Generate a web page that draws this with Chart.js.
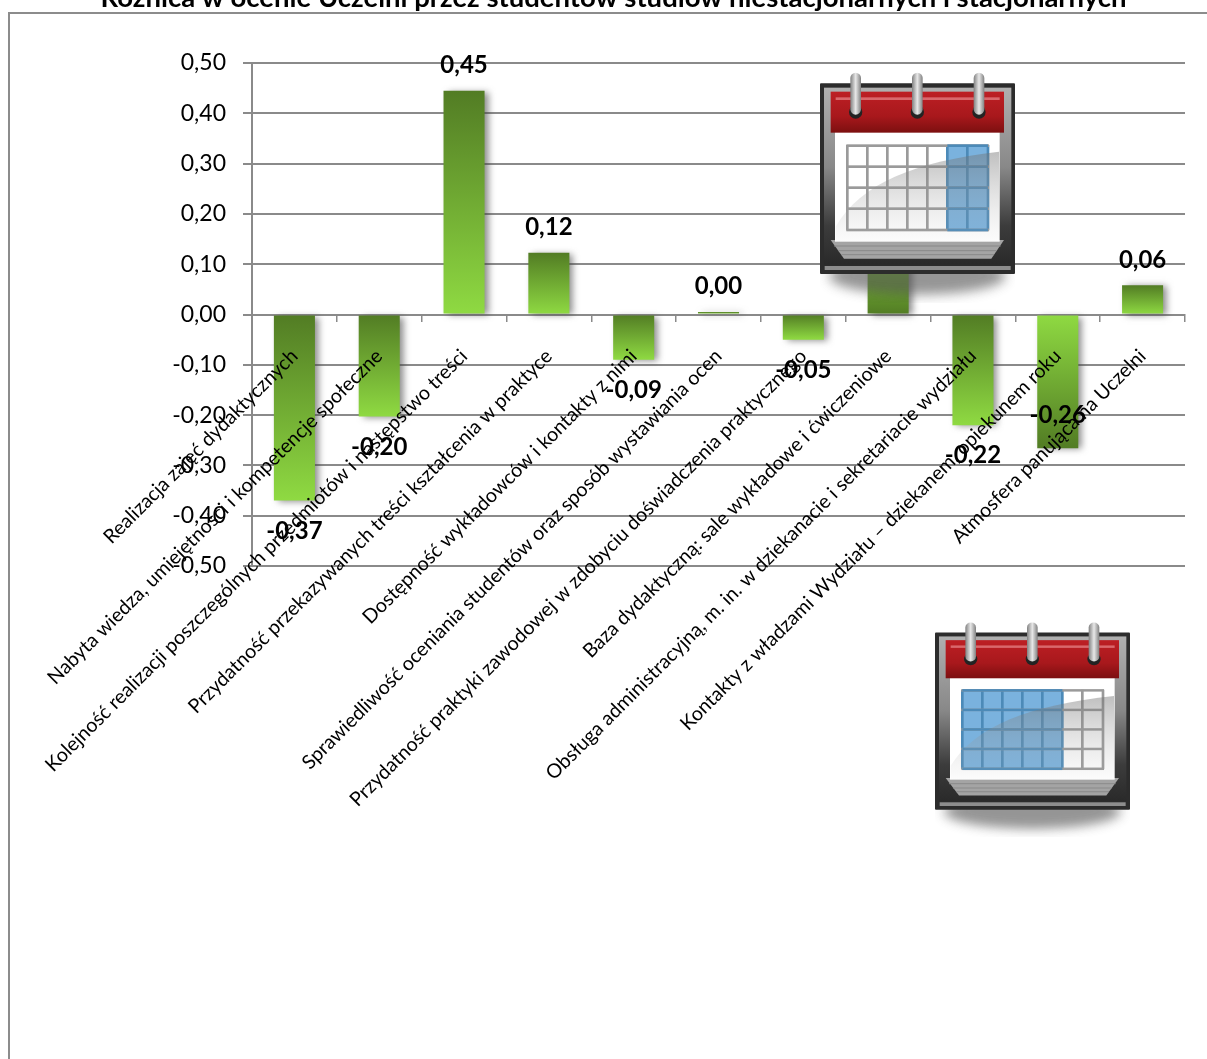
<!DOCTYPE html>
<html lang="pl">
<head>
<meta charset="utf-8">
<script src="https://cdn.jsdelivr.net/npm/chart.js@4"></script>
<style>
  html, body { margin: 0; background: #fff; overflow: hidden; }
  #wrap { position: relative; width: 1207px; height: 1059px; overflow: hidden; }
  #frame { position: absolute; left: 8px; top: 12px; width: 1300px; height: 1200px; border: 2px solid #8c8c8c; }
  canvas { position: absolute; left: 0; top: 0; }
  svg { position: absolute; }
</style>
</head>
<body>
<div id="wrap">
  <div id="frame"></div>
  <canvas id="chart" width="1207" height="1059"></canvas>
  <div id="icons"></div>
</div>
<script>
const chartTitle = "Różnica w ocenie Uczelni przez studentów studiów niestacjonarnych i stacjonarnych";
const categories = [
  "Realizacja zajęć dydaktycznych",
  "Nabyta wiedza, umiejętności i kompetencje społeczne",
  "Kolejność realizacji poszczególnych przedmiotów i następstwo treści",
  "Przydatność przekazywanych treści kształcenia w praktyce",
  "Dostępność wykładowców i kontakty z nimi",
  "Sprawiedliwość oceniania studentów oraz sposób wystawiania ocen",
  "Przydatność praktyki zawodowej w zdobyciu doświadczenia praktycznego",
  "Baza dydaktyczną: sale wykładowe i ćwiczeniowe",
  "Obsługa administracyjną, m. in. w dziekanacie i sekretariacie wydziału",
  "Kontakty z władzami Wydziału – dziekanem, opiekunem roku",
  "Atmosfera panująca na Uczelni"
];
const values = [-0.37, -0.203, 0.445, 0.123, -0.09, 0.005, -0.05, 0.15, -0.22, -0.266, 0.058];
const valueLabels = ["-0,37", "-0,20", "0,45", "0,12", "-0,09", "0,00", "-0,05", "0,15", "-0,22", "-0,26", "0,06"];
const flippedBars = [7, 9]; // these two have the light end on top

const FONT = "Lato, Carlito, sans-serif";
const DARK = "#527c24";
const LIGHT = "#8fda42";
const GRID = "#8a8a8a";

function barGradient(c) {
  const chart = c.chart;
  const y = chart.scales.y;
  if (!y || c.dataIndex === undefined) return LIGHT;
  const v = values[c.dataIndex];
  const top = y.getPixelForValue(Math.max(v, 0));
  const bottom = y.getPixelForValue(Math.min(v, 0));
  if (!isFinite(top) || !isFinite(bottom)) return LIGHT; // scale not laid out yet
  const g = chart.ctx.createLinearGradient(0, top, 0, bottom);
  const flip = flippedBars.includes(c.dataIndex);
  g.addColorStop(0, flip ? LIGHT : DARK);
  g.addColorStop(1, flip ? DARK : LIGHT);
  return g;
}

// soft shadow behind the bars
const barShadow = {
  id: "barShadow",
  beforeDatasetDraw(chart) {
    const ctx = chart.ctx;
    ctx.save();
    ctx.shadowColor = "rgba(60,60,60,0.6)";
    ctx.shadowBlur = 7;
    ctx.shadowOffsetX = 4;
    ctx.shadowOffsetY = 1;
  },
  afterDatasetDraw(chart) {
    chart.ctx.restore();
  }
};

const valueText = {
  id: "valueText",
  afterDraw(chart) {
    const ctx = chart.ctx;
    ctx.save();
    ctx.font = "bold 24px " + FONT;
    ctx.fillStyle = "#000";
    ctx.textAlign = "center";
    ctx.textBaseline = "middle";
    chart.getDatasetMeta(0).data.forEach((bar, i) => {
      let off = values[i] < 0 ? 30.5 : -25.5;
      if (i === 9) off = -33.5; // this one sits inside its bar
      ctx.fillText(valueLabels[i], bar.x, bar.y + off);
    });
    ctx.restore();
  }
};

new Chart(document.getElementById("chart"), {
  type: "bar",
  data: {
    labels: categories,
    datasets: [{
      data: values,
      backgroundColor: barGradient,
      borderWidth: 0,
      categoryPercentage: 1,
      barPercentage: 0.484
    }]
  },
  plugins: [barShadow, valueText],
  options: {
    responsive: false,
    animation: false,
    layout: { padding: { left: 42, right: 22, top: 0, bottom: 493 } },
    plugins: {
      legend: { display: false },
      tooltip: { enabled: false },
      title: {
        display: true,
        text: chartTitle,
        color: "#000",
        font: { family: FONT, size: 27.5, weight: "bold" },
        padding: { top: -18.5, bottom: 48.5 }
      }
    },
    scales: {
      x: {
        position: { y: 0 },
        afterFit(s) { s.height = 0; },
        grid: { drawOnChartArea: false, color: GRID, lineWidth: 1.5, tickLength: 6 },
        border: { color: GRID, width: 2 },
        ticks: {
          z: 1,
          autoSkip: false,
          minRotation: 45,
          maxRotation: 45,
          padding: 24,
          color: "#000",
          font: { family: FONT, size: 19.7 }
        }
      },
      y: {
        min: -0.5,
        max: 0.5,
        afterFit(s) { s.width = 210; },
        grid: { color: GRID, lineWidth: 2, tickLength: 9 },
        border: { color: GRID, width: 2 },
        ticks: {
          stepSize: 0.1,
          padding: 17,
          color: "#000",
          font: { family: FONT, size: 23 },
          callback: v => v.toFixed(2).replace(".", ",")
        }
      }
    }
  }
});

// the two calendar pictures laid over the chart (drawn in a 585 wide box)
function calendar(id, left, top, yScale, blueFrom, blueTo) {
  const cols = [200, 260, 320, 380, 440, 500, 560, 622];
  const rows = [287, 350, 413, 476, 540];
  const gx = cols[blueFrom], gw = cols[blueTo] - cols[blueFrom];
  let lines = "";
  cols.forEach((x, i) => {
    const blue = i >= blueFrom && i <= blueTo;
    lines += `<rect x="${x - 4}" y="285" width="8" height="256" fill="${blue ? "#4c8ab8" : "#9a9a9a"}"/>`;
  });
  rows.forEach(y => {
    lines += `<rect x="197" y="${y - 4}" width="428" height="8" fill="#9a9a9a"/>`;
    lines += `<rect x="${gx}" y="${y - 4}" width="${gw}" height="8" fill="#4c8ab8"/>`;
  });
  const rings = [225, 410, 595].map(x => `
    <circle cx="${x}" cy="186" r="20" fill="#232323"/>
    <rect x="${x - 16}" y="68" width="32" height="126" rx="16" fill="url(#${id}ring)"/>`).join("");
  return `<svg style="left:${left}px;top:${top}px" width="195" height="${700 * yScale / 3}" viewBox="118 60 585 700" preserveAspectRatio="none">
    <defs>
      <linearGradient id="${id}frame" x1="0" y1="0" x2="0" y2="1">
        <stop offset="0" stop-color="#b0b0b0"/><stop offset="0.45" stop-color="#888"/><stop offset="0.78" stop-color="#3c3c3c"/><stop offset="1" stop-color="#2a2a2a"/>
      </linearGradient>
      <linearGradient id="${id}red" x1="0" y1="0" x2="0" y2="1">
        <stop offset="0" stop-color="#bd1f24"/><stop offset="0.6" stop-color="#a8181c"/><stop offset="1" stop-color="#7c0f10"/>
      </linearGradient>
      <linearGradient id="${id}ring" x1="0" y1="0" x2="1" y2="0">
        <stop offset="0" stop-color="#808080"/><stop offset="0.5" stop-color="#e8e8e8"/><stop offset="1" stop-color="#808080"/>
      </linearGradient>
      <linearGradient id="${id}sheen" x1="0" y1="0" x2="0" y2="1">
        <stop offset="0" stop-color="#707070" stop-opacity="0.45"/><stop offset="1" stop-color="#bbb" stop-opacity="0.05"/>
      </linearGradient>
      <filter id="${id}blur" x="-20%" y="-60%" width="140%" height="220%"><feGaussianBlur stdDeviation="17"/></filter>
    </defs>
    <ellipse cx="410" cy="678" rx="265" ry="56" fill="#555" opacity="0.62" filter="url(#${id}blur)"/>
    <rect x="118" y="100" width="585" height="572" rx="3" fill="#2c2c2c"/>
    <rect x="130" y="113" width="562" height="530" fill="url(#${id}frame)"/>
    <rect x="132" y="648" width="558" height="12" fill="#8d8d8d"/>
    <polygon points="150,570 190,626 632,626 670,570" fill="#a4a4a4"/>
    <path d="M160 588H660M172 602H648M182 614H640" stroke="#8a8a8a" stroke-width="3"/>
    <rect x="163" y="240" width="494" height="335" fill="#fff"/>
    <rect x="${gx}" y="287" width="${gw}" height="253" fill="#7ab2de"/>
    ${lines}
    <path d="M165 530C240 400 400 335 655 305V575H165Z" fill="url(#${id}sheen)"/>
    <rect x="150" y="125" width="520" height="123" fill="url(#${id}red)"/>
    <rect x="165" y="142" width="492" height="8" fill="#d9686c"/>
    ${rings}
  </svg>`;
}
document.getElementById("icons").innerHTML =
  calendar("a", 819.5, 70, 1, 5, 7) +
  calendar("b", 935, 620, 0.93, 0, 5);
</script>
</body>
</html>
